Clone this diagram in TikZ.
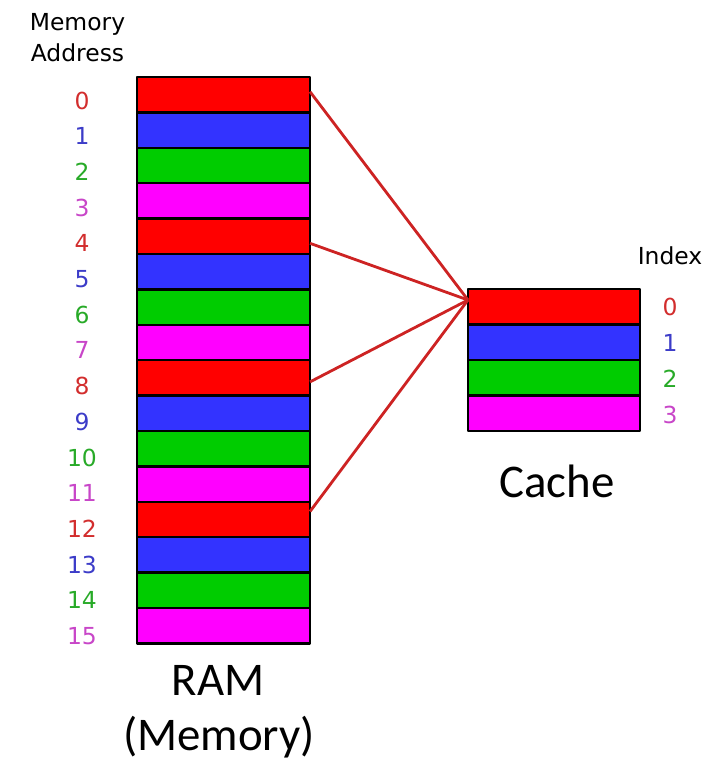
\documentclass[tikz,border=0pt]{standalone}
\usepackage{fontspec}
\setmainfont{DejaVu Sans}
\newfontfamily\calibri{Carlito}
\definecolor{c0}{RGB}{255,0,0}
\definecolor{c1}{RGB}{51,51,255}
\definecolor{c2}{RGB}{0,204,0}
\definecolor{c3}{RGB}{255,0,255}
\definecolor{l0}{RGB}{210,45,45}
\definecolor{l1}{RGB}{60,60,200}
\definecolor{l2}{RGB}{40,170,40}
\definecolor{l3}{RGB}{200,70,200}
\definecolor{linkred}{RGB}{205,35,35}
\begin{document}
\begin{tikzpicture}[x=0.03cm,y=-0.03cm,line join=round,font=\fontsize{20}{24}\selectfont,
	cell/.style={draw=black,line width=2.2pt,minimum width=5.19cm,minimum height=1.062cm,inner sep=0pt,outer sep=0pt},
	link/.style={draw=linkred,line width=2.4pt}]
		\useasboundingbox (0,0) rectangle (718,761);
		% RAM with addresses
		\foreach \i [evaluate=\i as \k using {int(mod(\i,4))}] in {0,...,15}{
			\node[cell,fill=c\k] (ram\i) at (223.5,{94.7+35.4*\i}) {};
			\node[text=l\k] (adr\i) at (82,{100.5+35.7*\i}) {\i};}
		\node[anchor=base] (mem) at (77.5,31) {Memory};
		\node[anchor=base] (addr) at (77.5,62) {Address};
		% cache with index
		\foreach \i in {0,...,3}{
			\node[cell,fill=c\i,minimum width=5.16cm,minimum height=1.065cm] (cache\i) at (554,{306.75+35.5*\i}) {};
			\node[text=l\i] (idx\i) at (670,{307+36*\i}) {\i};}
		\node (index) at (670,256) {Index};
		\coordinate (hub) at (468,300);
		\foreach \i/\d in {0/-3,4/7,8/4,12/-8}\draw[link] (ram\i.east) ++(0,\d) -- (hub);
		\node[anchor=base,font=\calibri\fontsize{40}{48}\selectfont] (cachelab) at (557,497) {Cache};
		\node[anchor=base,font=\calibri\fontsize{40}{48}\selectfont] (ramlab) at (218,695) {RAM};
		\node[anchor=base,font=\calibri\fontsize{40}{48}\selectfont] (memlab) at (219,750) {(Memory)};
\end{tikzpicture}
\end{document}
